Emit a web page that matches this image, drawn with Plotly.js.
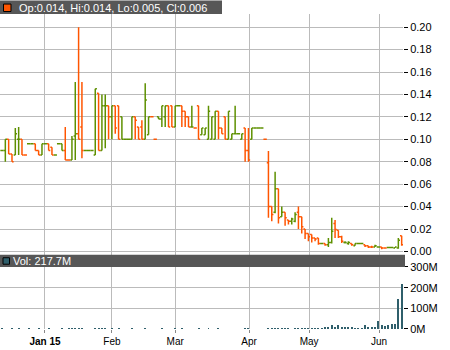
<!DOCTYPE html>
<html><head><meta charset="utf-8">
<script src="https://cdn.plot.ly/plotly-3.0.1.min.js"></script>
<style>html,body{margin:0;padding:0;background:#fff;}#chart{width:450px;height:350px;}</style>
</head><body><div id="chart"></div>
<script>
// ---- data ----
const opens = [.090,.090,.100,.087,.086,.100,.100,.086,.096,.096,
.096,.090,.086,.096,.096,.093,.086,.096,.096,.090,
.0815,.0815,.103,.105,.111,.090,.090,.090,.086,.141,
.090,.130,.130,.120,.130,.130,.120,.100,.100,.100,
.120,.111,.111,.100,.104,.120,.100,.120,.118,.120,
.130,.130,.111,.130,.130,.125,.120,.111,.110,.130,
.104,.104,.100,.100,.100,.125,.110,.120,.100,.100,
.105,.105,.100,.110,.090,.100,.110,.110,.110,.100,
.079,.040,.035,.056,.031,.035,.028,.027,.027,.035,
.031,.020,.016,.015,.012,.012,.007,.007,.006,.008,
.025,.019,.013,.008,.007,.007,.005,.007,.007,.006,
.005,.004,.004,.004,.004,.003,.0035,.0035,.003,.003,
.014];
const highs = [.090,.100,.100,.087,.110,.111,.100,.086,.096,.096,
.096,.090,.096,.096,.096,.093,.086,.096,.096,.111,
.0815,.103,.151,.200,.151,.090,.090,.090,.145,.141,
.140,.140,.130,.130,.130,.130,.120,.100,.100,.120,
.120,.111,.117,.150,.120,.120,.100,.120,.130,.130,
.130,.130,.130,.130,.130,.125,.120,.130,.110,.130,
.110,.110,.130,.120,.125,.125,.110,.120,.125,.105,
.130,.105,.105,.110,.110,.110,.110,.110,.110,.100,
.0895,.040,.071,.056,.040,.035,.028,.030,.035,.040,
.031,.020,.016,.015,.012,.012,.007,.007,.012,.030,
.028,.019,.014,.009,.009,.007,.007,.007,.007,.006,
.005,.005,.006,.004,.004,.003,.0035,.0035,.004,.012,
.014];
const lows = [.090,.080,.087,.080,.086,.086,.086,.086,.096,.096,
.090,.086,.086,.096,.090,.086,.086,.096,.090,.0815,
.0815,.0815,.0815,.100,.083,.090,.090,.090,.086,.090,
.090,.092,.100,.100,.105,.100,.100,.100,.100,.100,
.100,.100,.100,.100,.104,.120,.100,.118,.111,.111,
.111,.111,.111,.130,.111,.111,.111,.111,.110,.100,
.104,.104,.100,.100,.100,.100,.105,.100,.100,.100,
.105,.105,.100,.080,.080,.100,.110,.110,.110,.100,
.030,.027,.034,.025,.031,.023,.024,.024,.026,.020,
.016,.011,.009,.008,.009,.006,.007,.005,.004,.007,
.012,.012,.0075,.007,.006,.005,.005,.007,.007,.004,
.003,.003,.004,.004,.002,.003,.0035,.0035,.003,.0025,
.005];
const closes = [.090,.100,.087,.080,.105,.100,.086,.086,.096,.096,
.090,.086,.096,.096,.090,.086,.086,.096,.090,.0815,
.0815,.100,.105,.100,.090,.090,.090,.090,.145,.090,
.130,.130,.120,.130,.110,.100,.100,.100,.100,.120,
.117,.100,.100,.135,.120,.120,.100,.118,.130,.130,
.111,.111,.130,.130,.125,.120,.111,.111,.110,.100,
.110,.110,.125,.120,.125,.110,.105,.100,.125,.105,
.105,.105,.105,.090,.0815,.110,.110,.110,.110,.100,
.040,.033,.056,.030,.035,.030,.027,.029,.033,.031,
.022,.016,.013,.012,.011,.007,.007,.006,.008,.018,
.0195,.013,.009,.008,.008,.006,.007,.007,.007,.005,
.004,.004,.005,.004,.003,.003,.0035,.0035,.004,.010,
.006];
// bar colour as drawn: g = green (up), o = orange (down)
const dirs = ("ggooggoogg" + "ooggoogggo" + "oggooggggo" + "ggogoogggg" +
              "oooggooggg" + "ooggooogoo" + "gggggooogg" + "gggooggggo" +
              "oogogooggo" + "oooooogogg" + "oooggogggo" + "ooggoogggg" + "o").split('');
// volume in millions of shares
const volumes = [3,2,2,3,2,3,2,2,3,2, 2,3,2,2,3,2,2,2,3,2, 3,4,5,6,3,2,2,2,4,3,
3,3,2,3,2,3,2,2,2,3, 2,2,2,3,2,2,2,2,3,2, 2,2,3,2,3,2,2,2,2,3,
2,2,3,2,2,3,2,2,2,2, 2,2,2,3,3,2,2,2,2,2, 4,4,5,3,4,3,3,2,3,3,
3,3,3,4,5,5,3,8,12,17, 10,18,8,8,10,10,6,4,4,20, 8,8,8,37,18,15,18,22,22,145,
217.7];
const monthTickIdx  = [12.9, 33, 52, 74.2, 92.2, 113.2];
const monthTickText = ['<b>Jan 15</b>', 'Feb', 'Mar', 'Apr', 'May', 'Jun'];
const priceTicks = [0, 0.02, 0.04, 0.06, 0.08, 0.10, 0.12, 0.14, 0.16, 0.18, 0.20];
const volTicks = [0, 100, 200, 300];
const volTickText = ['0M', '100M', '200M', '300M'];

// ---- layout helpers ----
const W = 450, H = 350, ML = 0, MR = 47, MT = 13.5, MB = 20.5;
const plotW = W - ML - MR, plotH = H - MT - MB;
const px = x => (x - ML) / plotW;
const py = y => (H - MB - y) / plotH;

const GREEN = '#5e9000', ORANGE = '#ff5500', VOLC = '#2f5f6b', BAR = '#575757', GRID = '#bbbbbb';
const FONT = 'Liberation Sans, Arial, sans-serif';

const idx = opens.map((_, i) => i);
function ohlcTrace(flag, color) {
  const s = idx.filter(i => dirs[i] === flag);
  return {
    type: 'ohlc', xaxis: 'x', yaxis: 'y',
    x: s, open: s.map(i => opens[i]), high: s.map(i => highs[i]),
    low: s.map(i => lows[i]), close: s.map(i => closes[i]),
    increasing: {line: {color: color, width: 1.5}},
    decreasing: {line: {color: color, width: 1.5}},
    tickwidth: 0.5, showlegend: false, hoverinfo: 'skip'
  };
}
const traces = [
  ohlcTrace('g', GREEN),
  ohlcTrace('o', ORANGE),
  {type: 'bar', xaxis: 'x2', yaxis: 'y2', x: idx, y: volumes, width: 0.6,
   marker: {color: VOLC, line: {width: 0}}, showlegend: false, hoverinfo: 'skip'}
];

const last = opens.length - 1;
const headText = 'Op:' + opens[last].toFixed(3) + ', Hi:' + highs[last].toFixed(3) +
  ', Lo:' + lows[last].toFixed(3) + ', Cl:' + closes[last].toFixed(3);
const volText = 'Vol: ' + volumes[last].toFixed(1) + 'M';

const pr0 = -(255 - 251.7) / 22.5 * 0.02, pr1 = (251.7 - MT) / 22.5 * 0.02;

const layout = {
  width: W, height: H, margin: {l: ML, r: MR, t: MT, b: MB, pad: 0},
  paper_bgcolor: '#fff', plot_bgcolor: '#fff', showlegend: false,
  font: {family: FONT, size: 11, color: '#000'},
  xaxis: {domain: [0, 1], anchor: 'y', range: [-0.6, 120.4], tickvals: monthTickIdx,
    showticklabels: false, ticks: '', showgrid: true, gridcolor: GRID, gridwidth: 1,
    zeroline: false, showline: false, rangeslider: {visible: false}, fixedrange: true},
  yaxis: {domain: [py(255), 1], anchor: 'x', side: 'right', range: [pr0, pr1],
    tickvals: priceTicks, tickformat: '.2f', ticks: 'outside', ticklen: 4, tickcolor: '#000',
    showgrid: true, gridcolor: GRID, gridwidth: 1, zeroline: false, showline: false,
    tickfont: {size: 11, color: '#000'}, fixedrange: true},
  xaxis2: {domain: [0, 1], anchor: 'y2', matches: 'x', range: [-0.6, 120.4],
    tickvals: monthTickIdx, ticktext: monthTickText, ticks: 'outside', ticklen: 3, tickcolor: '#888',
    showgrid: true, gridcolor: GRID, gridwidth: 1, zeroline: false, showline: false,
    tickfont: {size: 10, color: '#000'}, rangeslider: {visible: false}, fixedrange: true},
  yaxis2: {domain: [0, py(267.3)], anchor: 'x2', side: 'right', range: [0, 300],
    tickvals: volTicks, ticktext: volTickText, ticks: 'outside', ticklen: 4, tickcolor: '#000',
    showgrid: true, gridcolor: GRID, gridwidth: 1, zeroline: false, showline: false,
    tickfont: {size: 11, color: '#000'}, fixedrange: true},
  bargap: 0,
  shapes: [
    {type: 'rect', xref: 'paper', yref: 'paper', x0: px(0), x1: px(222), y0: py(13.5), y1: py(0),
     fillcolor: BAR, line: {width: 0}, layer: 'above'},
    {type: 'rect', xref: 'paper', yref: 'paper', x0: px(0), x1: px(405), y0: py(267.3), y1: py(255),
     fillcolor: BAR, line: {width: 0}, layer: 'above'},
    {type: 'rect', xref: 'paper', yref: 'paper', x0: px(3.5), x1: px(11), y0: py(11), y1: py(3.5),
     fillcolor: ORANGE, line: {color: '#000', width: 1}, layer: 'above'},
    {type: 'rect', xref: 'paper', yref: 'paper', x0: px(3), x1: px(9.5), y0: py(264.5), y1: py(258),
     fillcolor: VOLC, line: {color: '#000', width: 1}, layer: 'above'}
  ],
  annotations: [
    {xref: 'paper', yref: 'paper', x: px(16.5), y: py(7), xanchor: 'left', yanchor: 'middle',
     text: headText, showarrow: false, font: {family: FONT, size: 11, color: '#fff'}},
    {xref: 'paper', yref: 'paper', x: px(10.5), y: py(261.3), xanchor: 'left', yanchor: 'middle',
     text: volText, showarrow: false, font: {family: FONT, size: 11, color: '#fff'}}
  ]
};

Plotly.newPlot('chart', traces, layout, {staticPlot: true, displayModeBar: false});
</script>
</body></html>
